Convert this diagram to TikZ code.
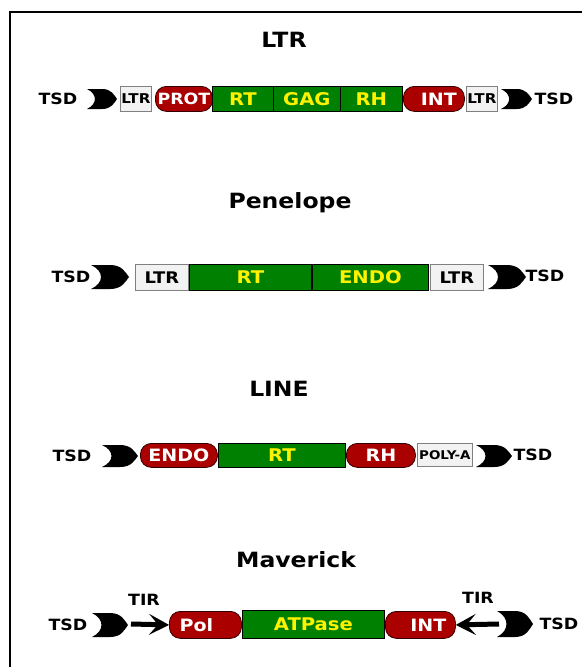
\documentclass[tikz,border=0pt]{standalone}
\usepackage{fontspec}
\setmainfont{DejaVu Sans}[FakeStretch=1.12]
\usetikzlibrary{arrows.meta}
\definecolor{dred}{HTML}{AA0000}
\definecolor{dgreen}{HTML}{008000}
\definecolor{lgray}{HTML}{F2F2F2}
\definecolor{bgray}{HTML}{808080}
\newcommand\fs[1]{\bfseries\fontsize{#1}{#1}\selectfont}
% name, x1, y1, x2, y2, style, text
\newcommand\blk[7]{%
  \node[#6, minimum width={(#4-#2)*1pt}, minimum height={(#5-#3)*1pt}, anchor=north west] (#1) at (#2,#3) {#7};}
\newcommand\tsd[5]{%
  \pgfmathsetmacro\tw{#4-#2}\pgfmathsetmacro\th{#5-#3}%
  \fill[black] (#2,#3) -- ({#2+0.5*\tw},#3)
    .. controls ({#2+0.82*\tw},#3) and ({#4-0.1*\tw},{#3+0.3*\th}) .. (#4,{(#3+#5)/2})
    .. controls ({#4-0.1*\tw},{#5-0.3*\th}) and ({#2+0.82*\tw},#5) .. ({#2+0.5*\tw},#5)
    -- (#2,#5)
    .. controls ({#2+0.35*\tw},{#5-0.25*\th}) and ({#2+0.35*\tw},{#3+0.25*\th}) .. cycle;
  \coordinate (#1) at (#4,{(#3+#5)/2});}
\tikzset{
  base/.style={inner sep=0pt, line width=0.8pt},
  redbox/.style={base, draw=black!70!dred, fill=dred, rounded corners=11pt, text=white, font=\fs{17}},
  greenbox/.style={base, draw=black, fill=dgreen, text=yellow, font=\fs{17.5}},
  graybox/.style={base, draw=bgray, fill=lgray, text=black, font=\fs{#1}},
  graybox/.default=16,
  lbl/.style={font=\fs{15.5}, text=black},
  ttl/.style={font=\fs{21}, text=black},
  tir/.style={line width=5pt, -{Stealth[length=20pt, width=21pt, inset=9pt]}},
}
\begin{document}
\begin{tikzpicture}[x=1pt, y=-1pt]
\useasboundingbox (0,0) rectangle (582,667);
\draw[line width=1.2pt] (10,667) -- (10,12) -- (582,12);

% ---------- LTR ----------
\node[ttl] (t1) at (284,40) {LTR};
\node[lbl] (s1a) at (58,99) {TSD};
\tsd{d1a}{87}{89}{117}{109}
\blk{l1a}{120}{86}{151}{111}{graybox=13.5}{LTR}
\blk{prot}{155}{86}{212}{111}{redbox, font=\fs{15.5}}{PROT}
\blk{rt1}{212}{86}{273}{111}{greenbox}{RT}
\blk{gag}{273}{86}{340}{111}{greenbox}{GAG}
\blk{rh1}{340}{86}{402}{111}{greenbox}{RH}
\blk{int1}{403}{86}{464}{111}{redbox}{\hspace*{10pt}INT}
\blk{l1b}{466}{86}{497}{111}{graybox=13.5}{LTR}
\tsd{d1b}{501}{89}{532}{109}
\node[lbl] (s1b) at (554,99) {TSD};

% ---------- Penelope ----------
\node[ttl] (t2) at (290,203) {Penelope};
\node[lbl] (s2a) at (71,277) {TSD};
\tsd{d2a}{91}{265}{129}{289}
\blk{l2a}{135}{264}{188}{290}{graybox}{LTR}
\blk{rt2}{189}{264}{311}{290}{greenbox}{RT}
\blk{endo2}{312}{264}{428}{290}{greenbox}{ENDO}
\blk{l2b}{430}{264}{483}{290}{graybox}{LTR}
\tsd{d2b}{488}{265}{526}{289}
\node[lbl] (s2b) at (545,276) {TSD};

% ---------- LINE ----------
\node[ttl] (t3) at (279,389) {LINE};
\node[lbl] (s3a) at (72,456) {TSD};
\tsd{d3a}{102}{445}{138}{467}
\blk{endo3}{140}{443}{217}{467}{redbox}{ENDO}
\blk{rt3}{218}{443}{345}{467}{greenbox}{RT}
\blk{rh3}{346}{443}{415}{467}{redbox}{RH}
\blk{poly}{417}{443}{472}{466}{graybox=12}{POLY-A}
\tsd{d3b}{476}{445}{512}{467}
\node[lbl] (s3b) at (533,455) {TSD};

% ---------- Maverick ----------
\node[ttl] (t4) at (296,560) {Maverick};
\node[lbl] (s4a) at (68,625) {TSD};
\tsd{d4a}{92}{613}{128}{637}
\coordinate (a4a) at (131,624);
\blk{pol}{169}{611}{241}{638}{redbox}{Pol\hspace*{18pt}}
\blk{atp}{242}{610}{384}{638}{greenbox}{ATPase}
\blk{int4}{385}{611}{455}{638}{redbox}{\hspace*{16pt}INT}
\coordinate (a4b) at (499,624);
\tsd{d4b}{497}{611}{533}{637}
\node[lbl] (s4b) at (559,624) {TSD};
\node[lbl] (tir1) at (144,600) {TIR};
\node[lbl] (tir2) at (478,598) {TIR};
\draw[tir] (a4a) -- (pol.west);
\draw[tir] (a4b) -- (int4.east);
\end{tikzpicture}
\end{document}
